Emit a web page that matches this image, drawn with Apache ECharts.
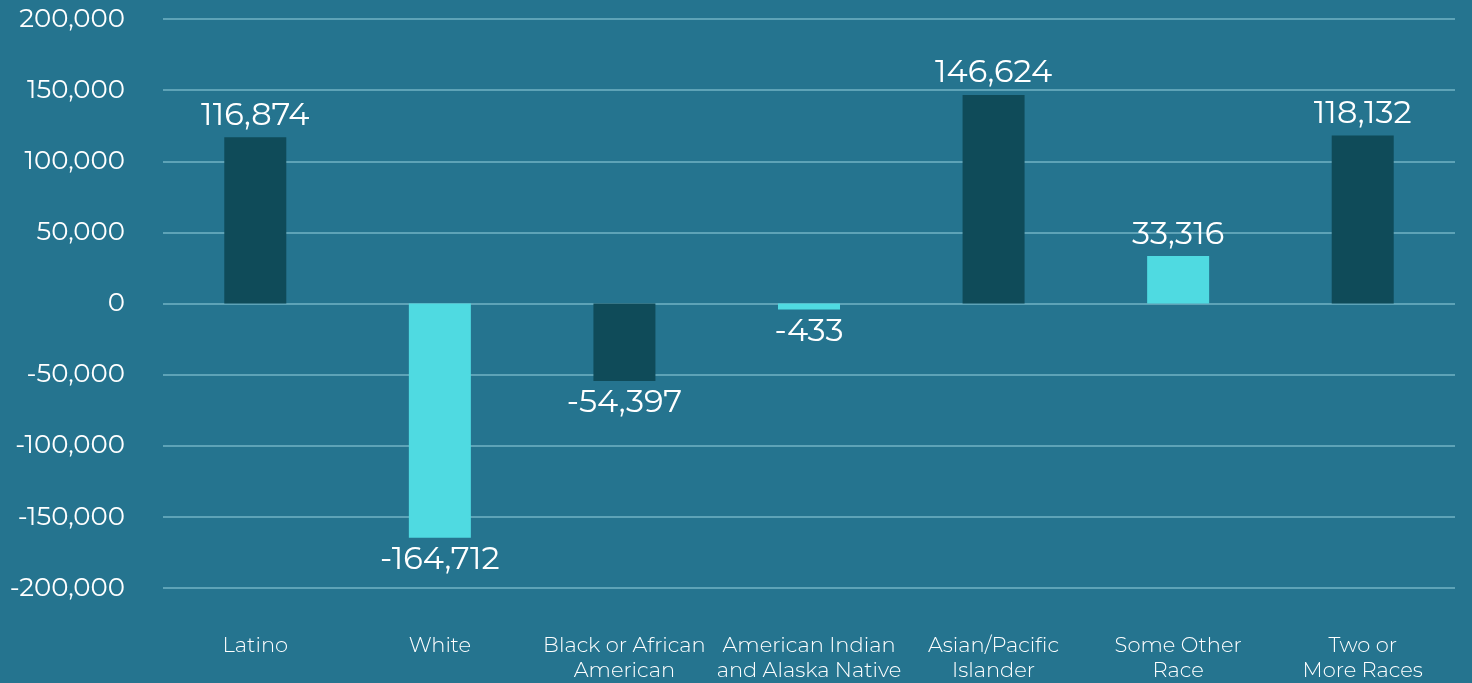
<!DOCTYPE html>
<html style="height: 100%">
   <head>
       <meta charset="utf-8">
   </head>
   <body style="height: 100%; margin: 0; background: #25748f">
       <div id="container" style="height: 100%"></div>
       <script type="text/javascript" src="https://cdn.jsdelivr.net/npm/echarts@6/dist/echarts.min.js"></script>
       <script type="text/javascript">
var dom = document.getElementById("container");
var myChart = echarts.init(dom);
var categories = ['Latino', 'White', 'Black or African\nAmerican', 'American Indian\nand Alaska Native', 'Asian/Pacific\nIslander', 'Some Other\nRace', 'Two or\nMore Races'];
var values = [116874, -164712, -54397, -433, 146624, 33316, 118132];
var barColors = ['#0f4b59', '#4fdae1', '#0f4b59', '#4fdae1', '#0f4b59', '#4fdae1', '#0f4b59'];
var font = 'Montserrat, Inter, sans-serif';

var barData = [];
for (var i = 0; i < values.length; i++) {
    barData.push({
        value: values[i],
        itemStyle: {color: barColors[i]},
        label: {position: values[i] < 0 ? 'bottom' : 'top'}
    });
}

var option = {
    backgroundColor: '#25748f',
    grid: {
        left: 163,
        right: 17,
        top: 19,
        bottom: 95
    },
    xAxis: {
        type: 'category',
        data: categories,
        axisLine: {show: false},
        axisTick: {show: false},
        axisLabel: {
            interval: 0,
            color: '#ffffff',
            fontFamily: font,
            fontSize: 21,
            fontWeight: 300,
            lineHeight: 25,
            margin: 45
        }
    },
    yAxis: {
        type: 'value',
        min: -200000,
        max: 200000,
        interval: 50000,
        axisLine: {show: false},
        axisTick: {show: false},
        axisLabel: {
            color: '#ffffff',
            fontFamily: font,
            fontSize: 26,
            margin: 38,
            formatter: function (v) {
                return v.toLocaleString('en-US');
            }
        },
        splitLine: {
            lineStyle: {color: '#5ea3b7', width: 2}
        }
    },
    series: [{
        type: 'bar',
        data: barData,
        barWidth: 62,
        barMinHeight: 6,
        label: {
            show: true,
            color: '#ffffff',
            fontFamily: font,
            fontSize: 32,
            distance: 6,
            formatter: function (p) {
                return p.value.toLocaleString('en-US');
            }
        }
    }]
};

myChart.setOption(option, true);
       </script>
   </body>
</html>
